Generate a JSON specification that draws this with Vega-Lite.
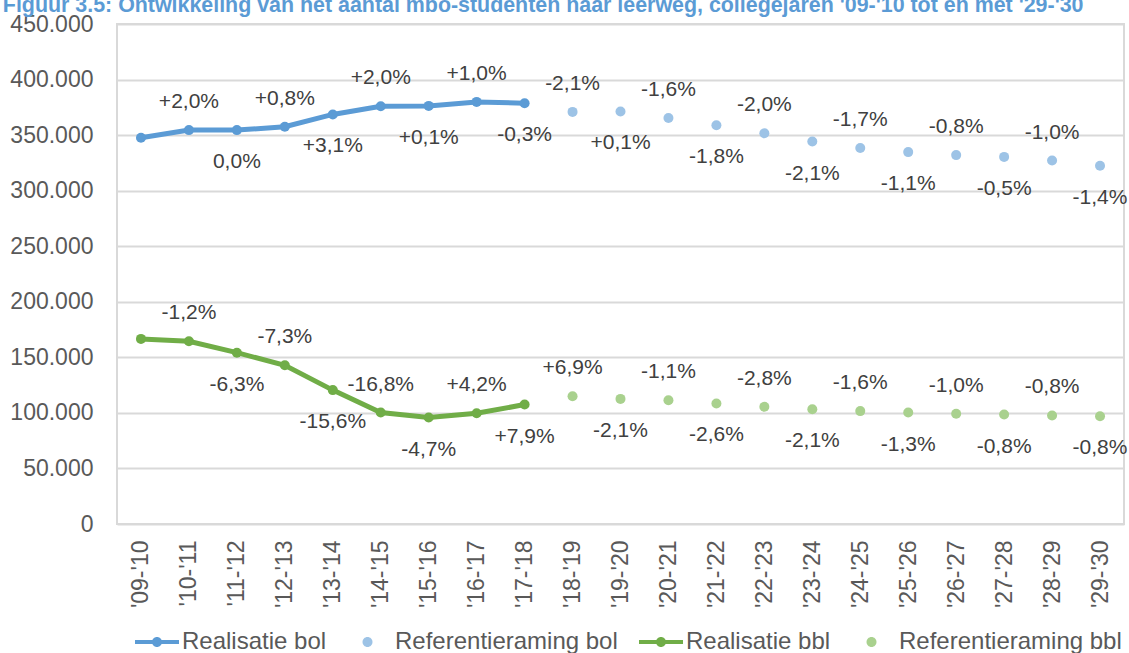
{
  "$schema": "https://vega.github.io/schema/vega-lite/v6.json",
  "width": 1007,
  "height": 500,
  "autosize": {"type": "none"},
  "padding": {"left": 117, "top": 24, "right": 5, "bottom": 129},
  "background": "white",
  "title": {
    "text": "Figuur 3.5: Ontwikkeling van het aantal mbo-studenten naar leerweg, collegejaren '09-'10 tot en met '29-'30",
    "anchor": "start",
    "frame": "bounds",
    "font": "Liberation Sans",
    "fontWeight": "bold",
    "fontSize": 21.4,
    "color": "#5B9BD5",
    "baseline": "alphabetic",
    "offset": -4,
    "dy": 16,
    "dx": -7
  },
  "config": {
    "locale": {"number": {"decimal": ",", "thousands": ".", "grouping": [3], "currency": ["€", ""]}},
    "view": {"stroke": "#d9d9d9", "strokeWidth": 2},
    "font": "Liberation Sans",
    "axis": {"labelFont": "Liberation Sans", "labelColor": "#595959", "labelFontSize": 23, "gridColor": "#d9d9d9", "gridWidth": 2, "domain": false, "ticks": false, "title": null}
  },
  "data": {
    "values": [
      {"year": "'09-'10", "series": "Realisatie bol", "value": 347600, "label": ""},
      {"year": "'10-'11", "series": "Realisatie bol", "value": 354500, "label": "+2,0%"},
      {"year": "'11-'12", "series": "Realisatie bol", "value": 354500, "label": "0,0%"},
      {"year": "'12-'13", "series": "Realisatie bol", "value": 357500, "label": "+0,8%"},
      {"year": "'13-'14", "series": "Realisatie bol", "value": 368600, "label": "+3,1%"},
      {"year": "'14-'15", "series": "Realisatie bol", "value": 376000, "label": "+2,0%"},
      {"year": "'15-'16", "series": "Realisatie bol", "value": 376300, "label": "+0,1%"},
      {"year": "'16-'17", "series": "Realisatie bol", "value": 379900, "label": "+1,0%"},
      {"year": "'17-'18", "series": "Realisatie bol", "value": 378700, "label": "-0,3%"},
      {"year": "'18-'19", "series": "Referentieraming bol", "value": 370900, "label": "-2,1%"},
      {"year": "'19-'20", "series": "Referentieraming bol", "value": 371300, "label": "+0,1%"},
      {"year": "'20-'21", "series": "Referentieraming bol", "value": 365400, "label": "-1,6%"},
      {"year": "'21-'22", "series": "Referentieraming bol", "value": 358800, "label": "-1,8%"},
      {"year": "'22-'23", "series": "Referentieraming bol", "value": 351600, "label": "-2,0%"},
      {"year": "'23-'24", "series": "Referentieraming bol", "value": 344200, "label": "-2,1%"},
      {"year": "'24-'25", "series": "Referentieraming bol", "value": 338400, "label": "-1,7%"},
      {"year": "'25-'26", "series": "Referentieraming bol", "value": 334700, "label": "-1,1%"},
      {"year": "'26-'27", "series": "Referentieraming bol", "value": 332000, "label": "-0,8%"},
      {"year": "'27-'28", "series": "Referentieraming bol", "value": 330400, "label": "-0,5%"},
      {"year": "'28-'29", "series": "Referentieraming bol", "value": 327100, "label": "-1,0%"},
      {"year": "'29-'30", "series": "Referentieraming bol", "value": 322500, "label": "-1,4%"},
      {"year": "'09-'10", "series": "Realisatie bbl", "value": 166600, "label": ""},
      {"year": "'10-'11", "series": "Realisatie bbl", "value": 164500, "label": "-1,2%"},
      {"year": "'11-'12", "series": "Realisatie bbl", "value": 154200, "label": "-6,3%"},
      {"year": "'12-'13", "series": "Realisatie bbl", "value": 142800, "label": "-7,3%"},
      {"year": "'13-'14", "series": "Realisatie bbl", "value": 120500, "label": "-15,6%"},
      {"year": "'14-'15", "series": "Realisatie bbl", "value": 100300, "label": "-16,8%"},
      {"year": "'15-'16", "series": "Realisatie bbl", "value": 95800, "label": "-4,7%"},
      {"year": "'16-'17", "series": "Realisatie bbl", "value": 99600, "label": "+4,2%"},
      {"year": "'17-'18", "series": "Realisatie bbl", "value": 107500, "label": "+7,9%"},
      {"year": "'18-'19", "series": "Referentieraming bbl", "value": 115000, "label": "+6,9%"},
      {"year": "'19-'20", "series": "Referentieraming bbl", "value": 112600, "label": "-2,1%"},
      {"year": "'20-'21", "series": "Referentieraming bbl", "value": 111400, "label": "-1,1%"},
      {"year": "'21-'22", "series": "Referentieraming bbl", "value": 108500, "label": "-2,6%"},
      {"year": "'22-'23", "series": "Referentieraming bbl", "value": 105500, "label": "-2,8%"},
      {"year": "'23-'24", "series": "Referentieraming bbl", "value": 103300, "label": "-2,1%"},
      {"year": "'24-'25", "series": "Referentieraming bbl", "value": 101600, "label": "-1,6%"},
      {"year": "'25-'26", "series": "Referentieraming bbl", "value": 100300, "label": "-1,3%"},
      {"year": "'26-'27", "series": "Referentieraming bbl", "value": 99300, "label": "-1,0%"},
      {"year": "'27-'28", "series": "Referentieraming bbl", "value": 98500, "label": "-0,8%"},
      {"year": "'28-'29", "series": "Referentieraming bbl", "value": 97700, "label": "-0,8%"},
      {"year": "'29-'30", "series": "Referentieraming bbl", "value": 96900, "label": "-0,8%"}
    ]
  },
  "encoding": {
    "x": {
      "field": "year", "type": "ordinal", "sort": null,
      "scale": {"type": "point", "padding": 0.5},
      "axis": {"labelAngle": -90, "labelPadding": 16, "grid": false}
    },
    "y": {
      "field": "value", "type": "quantitative",
      "scale": {"domain": [0, 450000], "nice": false},
      "axis": {"values": [0, 50000, 100000, 150000, 200000, 250000, 300000, 350000, 400000, 450000], "format": ",d", "labelPadding": 24, "grid": true}
    }
  },
  "layer": [
    {
      "transform": [{"filter": "indexof(datum.series, 'Realisatie') == 0"}],
      "mark": {"type": "line", "strokeWidth": 5},
      "encoding": {
        "stroke": {"field": "series", "type": "nominal",
          "scale": {"domain": ["Realisatie bol", "Realisatie bbl"], "range": ["#5B9BD5", "#70AD47"]},
          "legend": null}
      }
    },
    {
      "mark": {"type": "point", "filled": true, "opacity": 1, "size": 100},
      "encoding": {
        "fill": {"field": "series", "type": "nominal",
          "scale": {"domain": ["Realisatie bol", "Realisatie bbl", "Referentieraming bol", "Referentieraming bbl"], "range": ["#5B9BD5", "#70AD47", "#9DC3E6", "#A9D18E"]},
          "legend": null}
      }
    },
    {
      "transform": [{"filter": "datum.label != '' && parseInt(substring(datum.year, 1, 3)) % 2 == 0"}],
      "mark": {"type": "text", "dy": -28, "fontSize": 21, "color": "#404040", "font": "Liberation Sans"},
      "encoding": {"text": {"field": "label"}}
    },
    {
      "transform": [{"filter": "datum.label != '' && parseInt(substring(datum.year, 1, 3)) % 2 == 1"}],
      "mark": {"type": "text", "dy": 32, "fontSize": 21, "color": "#404040", "font": "Liberation Sans"},
      "encoding": {"text": {"field": "label"}}
    },
    {
      "transform": [{"filter": "false"}],
      "mark": {"type": "point", "filled": true, "opacity": 1},
      "encoding": {
        "color": {"field": "series", "type": "nominal",
          "scale": {"domain": ["Realisatie bol", "Referentieraming bol", "Realisatie bbl", "Referentieraming bbl"], "range": ["#5B9BD5", "#9DC3E6", "#70AD47", "#A9D18E"]},
          "legend": {"orient": "bottom", "direction": "horizontal", "title": null, "labelFont": "Liberation Sans", "labelFontSize": 24, "labelColor": "#595959", "labelLimit": 400, "symbolSize": 100, "symbolOffset": 28, "labelOffset": 13, "columnPadding": 3, "offset": 22, "symbolStrokeWidth": 0}},
        "shape": {"field": "series", "type": "nominal",
          "scale": {"domain": ["Realisatie bol", "Referentieraming bol", "Realisatie bbl", "Referentieraming bbl"],
            "range": ["M-4.4,-0.4 L4.4,-0.4 L4.4,0.4 L-4.4,0.4 Z M1,0 A1,1 0 1,1 -1,0 A1,1 0 1,1 1,0 Z", "M0.5,0 A1,1 0 1,1 -1.5,0 A1,1 0 1,1 0.5,0 Z", "M-4.4,-0.4 L4.4,-0.4 L4.4,0.4 L-4.4,0.4 Z M1,0 A1,1 0 1,1 -1,0 A1,1 0 1,1 1,0 Z", "M0.5,0 A1,1 0 1,1 -1.5,0 A1,1 0 1,1 0.5,0 Z"]},
          "legend": {"orient": "bottom", "direction": "horizontal", "title": null, "labelFont": "Liberation Sans", "labelFontSize": 24, "labelColor": "#595959", "labelLimit": 400, "symbolSize": 100, "symbolOffset": 28, "labelOffset": 13, "columnPadding": 3, "offset": 22, "symbolStrokeWidth": 0}}
      }
    }
  ]
}
